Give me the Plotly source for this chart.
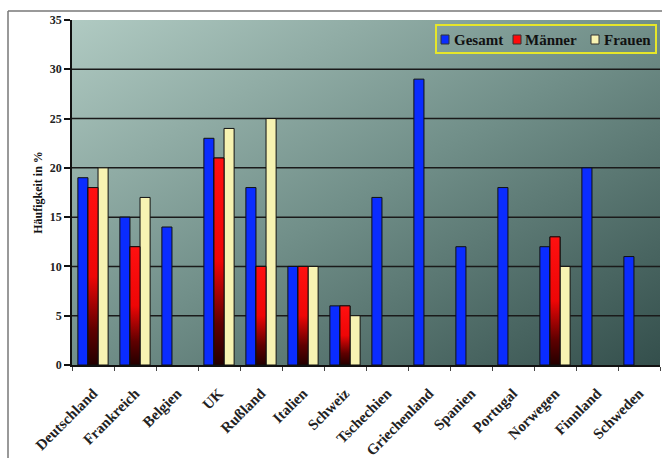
import plotly.graph_objects as go

# Häufigkeit nach Land (in %)
laender = ["Deutschland", "Frankreich", "Belgien", "UK", "Rußland", "Italien", "Schweiz",
           "Tschechien", "Griechenland", "Spanien", "Portugal", "Norwegen", "Finnland", "Schweden"]
gesamt = [19, 15, 14, 23, 18, 10, 6, 17, 29, 12, 18, 12, 20, 11]
maenner = [18, 12, None, 21, 10, 10, 6, None, None, None, None, 13, None, None]
frauen = [20, 17, None, 24, 25, 10, 5, None, None, None, None, 10, None, None]
serien = ["Gesamt", "Männer", "Frauen"]
y_ticks = [0, 5, 10, 15, 20, 25, 30, 35]

BLUE = "#0a2cff"
RED = "#ff0a0a"
CREAM = "#f7f3b2"
COLORS = [BLUE, RED, CREAM]
BAR_W = 0.24
SERIF = "Liberation Serif"

W, H = 662, 458
M_L, M_R, M_T, M_B = 72, 2, 20, 93
PW, PH = W - M_L - M_R, H - M_T - M_B


def px_x(px):
    return (px - M_L) / PW


def px_y(py):
    return (H - M_B - py) / PH


idx = list(range(len(laender)))
fig = go.Figure()

for name, vals, col, k in zip(serien, [gesamt, maenner, frauen], COLORS, [-1.5, -0.5, 0.5]):
    fig.add_trace(go.Bar(x=idx, y=vals, name=name, width=BAR_W, offset=k * BAR_W,
                         marker=dict(color=col, line=dict(color="#101010", width=1))))

# Männer bars: red fading to dark towards the base, one gradient per bar
for i, v in zip(idx, maenner):
    if v is None:
        continue
    x0, x1 = i - 0.5 * BAR_W, i + 0.5 * BAR_W
    fig.add_trace(go.Scatter(
        x=[x0, x1, x1, x0, x0], y=[0, 0, v, v, 0], mode="lines",
        fill="toself", line=dict(color="#101010", width=1),
        fillgradient=dict(type="vertical", start=0, stop=v,
                          colorscale=[[0, "#240000"], [0.2, "#600000"],
                                      [0.5, "#ee0606"], [1, "#ff1010"]]),
        showlegend=False, hoverinfo="skip"))

# diagonal background gradient of the plotting area
bg_svg = ("data:image/svg+xml;utf8,"
          "<svg xmlns='http://www.w3.org/2000/svg' width='100' height='100'>"
          "<defs><linearGradient id='g' x1='0' y1='0' x2='1' y2='1'>"
          "<stop offset='0' stop-color='%23b0cac2'/>"
          "<stop offset='0.5' stop-color='%23718f89'/>"
          "<stop offset='1' stop-color='%23344f4c'/>"
          "</linearGradient></defs>"
          "<rect width='100' height='100' fill='url(%23g)'/></svg>")

shapes = []
for t in y_ticks[1:-1]:
    shapes.append(dict(type="line", xref="paper", yref="y", x0=0, x1=1, y0=t, y1=t,
                       line=dict(color="#1a1a1a", width=1.5), layer="between"))
# outer frame (top and left edges)
shapes.append(dict(type="line", xref="paper", yref="paper", x0=px_x(8), x1=px_x(W + 5),
                   y0=px_y(11), y1=px_y(11), line=dict(color="#777777", width=1.5)))
shapes.append(dict(type="line", xref="paper", yref="paper", x0=px_x(8), x1=px_x(8),
                   y0=px_y(11), y1=px_y(H + 5), line=dict(color="#777777", width=1.5)))

# legend box with yellow frame
annotations = []
shapes.append(dict(type="rect", xref="paper", yref="paper", x0=px_x(436), x1=px_x(656),
                   y0=px_y(53), y1=px_y(25), line=dict(color="#e6e62a", width=2),
                   fillcolor="rgba(0,0,0,0)"))
for name, col, mx, tx in zip(serien, COLORS, [441, 513, 591], [452, 523, 602]):
    shapes.append(dict(type="rect", xref="paper", yref="paper", x0=px_x(mx), x1=px_x(mx + 8),
                       y0=px_y(44), y1=px_y(35), fillcolor=col,
                       line=dict(color="#333333", width=1)))
    annotations.append(dict(text=name, xref="paper", yref="paper", x=px_x(tx), y=px_y(39.5),
                            xanchor="left", yanchor="middle", showarrow=False,
                            font=dict(family=SERIF, size=15, color="#111111", weight="bold")))

fig.update_layout(
    width=W, height=H,
    margin=dict(l=M_L, r=M_R, t=M_T, b=M_B),
    paper_bgcolor="white",
    plot_bgcolor="#718f89",
    barmode="overlay",
    showlegend=False,
    images=[dict(source=bg_svg, xref="paper", yref="paper", x=0, y=1, sizex=1, sizey=1,
                 xanchor="left", yanchor="top", sizing="stretch", layer="below")],
    shapes=shapes,
    annotations=annotations,
    xaxis=dict(range=[-0.5, len(laender) - 0.5], tickmode="array", tickvals=idx,
               ticktext=laender, tickangle=-45, ticks="", showgrid=False, zeroline=False,
               showline=True, linecolor="#111111", linewidth=1.5, ticklabelstandoff=12,
               automargin=False,
               tickfont=dict(family=SERIF, size=15, color="#222222", weight="bold"),
               minor=dict(tickmode="linear", tick0=-0.5, dtick=1, ticks="outside",
                          ticklen=4, tickcolor="#444444", showgrid=False)),
    yaxis=dict(range=[0, 35], tickmode="array", tickvals=y_ticks, showgrid=False,
               zeroline=False, showline=True, linecolor="#111111", linewidth=1.5,
               ticks="outside", ticklen=6, tickcolor="#111111", tickwidth=1.5,
               automargin=False,
               tickfont=dict(family=SERIF, size=12, color="#222222", weight="bold"),
               title=dict(text="Häufigkeit in %", standoff=5,
                          font=dict(family=SERIF, size=12, color="#111111", weight="bold"))),
)

fig.write_html("out.html")
